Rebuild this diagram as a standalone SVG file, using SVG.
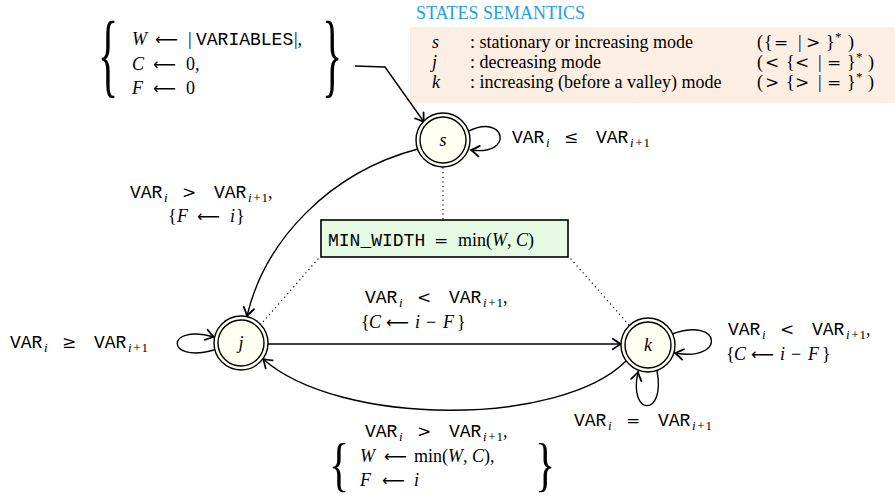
<svg xmlns="http://www.w3.org/2000/svg" width="895" height="497" viewBox="0 0 895 497">
<defs>
<style>
text{font-family:"Liberation Serif",serif;font-size:18px;fill:#000}
.m{font-family:"Liberation Mono",monospace;font-size:18px}
.it{font-style:italic}
.sub{font-size:13px}
.r{font-family:"DejaVu Serif",serif;font-size:17px}
.a{font-family:"DejaVu Sans",sans-serif;font-size:16px}
.title{fill:#22a0e0}
.edge{fill:none;stroke:#000;stroke-width:1.4}
.dot{fill:none;stroke:#000;stroke-width:1.3;stroke-linecap:round;stroke-dasharray:0.1,4.5}
.outer{fill:#fffff2;stroke:#000;stroke-width:1.4}
.inner{fill:none;stroke:#000;stroke-width:1.4}
.br{font-size:30px}
</style>
<marker id="ar" markerUnits="userSpaceOnUse" markerWidth="14" markerHeight="14" viewBox="-8 -6 10 12" refX="0" refY="0" orient="auto">
<path d="M-7,-4.5 Q-2,-1 0,0 Q-2,1 -7,4.5" fill="none" stroke="#000" stroke-width="1.5" stroke-linecap="round"/>
</marker>
</defs>
<rect width="895" height="497" fill="#fff"/>

<g id="legend">
<text class="title" x="416" y="19">STATES SEMANTICS</text>
<rect x="410" y="27" width="485" height="76" rx="3" fill="#fdeee3"/>
<text x="432" y="48" class="it">s</text><text x="470" y="48">: stationary or increasing mode</text>
<text y="48"><tspan x="757">(</tspan><tspan x="764">{</tspan><tspan class="r" x="774">=</tspan><tspan x="798">|</tspan><tspan class="r" x="806">&gt;</tspan><tspan x="826">}</tspan><tspan class="sub" x="835" dy="-7">*</tspan><tspan x="848" dy="7">)</tspan></text>
<text x="432" y="68" class="it">j</text><text x="470" y="68">: decreasing mode</text>
<text y="68"><tspan x="757">(</tspan><tspan class="r" x="765">&lt;</tspan><tspan x="786">{</tspan><tspan class="r" x="795">&lt;</tspan><tspan x="818">|</tspan><tspan class="r" x="827">=</tspan><tspan x="847">}</tspan><tspan class="sub" x="856" dy="-7">*</tspan><tspan x="868" dy="7">)</tspan></text>
<text x="432" y="88" class="it">k</text><text x="470" y="88">: increasing (before a valley) mode</text>
<text y="88"><tspan x="757">(</tspan><tspan class="r" x="765">&gt;</tspan><tspan x="786">{</tspan><tspan class="r" x="795">&gt;</tspan><tspan x="818">|</tspan><tspan class="r" x="827">=</tspan><tspan x="847">}</tspan><tspan class="sub" x="856" dy="-7">*</tspan><tspan x="868" dy="7">)</tspan></text>
</g>

<g id="init">
<text class="br" transform="translate(98,85.5) scale(1.4,3.1)">{</text>
<text y="45"><tspan class="it" x="132">W</tspan><tspan class="a" x="155">⟵</tspan><tspan x="188">|</tspan><tspan class="m" x="196">VARIABLES</tspan><tspan x="294">|,</tspan></text>
<text y="70"><tspan class="it" x="132">C</tspan><tspan class="a" x="153">⟵</tspan><tspan x="186">0,</tspan></text>
<text y="94"><tspan class="it" x="132">F</tspan><tspan class="a" x="153">⟵</tspan><tspan x="186">0</tspan></text>
<text class="br" transform="translate(322,85.5) scale(1.4,3.1)">}</text>
</g>

<g id="connectors">
<path class="edge" d="M355,66 L385,67 L424,122" marker-end="url(#ar)"/>
<path class="edge" d="M469,131 C505,113 515,156 471,150" marker-end="url(#ar)"/>
<path class="edge" d="M418,149 C330,172 265,240 247,316" marker-end="url(#ar)"/>
<path class="edge" d="M268,344 L621,344" marker-end="url(#ar)"/>
<path class="edge" d="M626,361 C560,427 340,427 263,359" marker-end="url(#ar)"/>
<path class="edge" d="M214,350 C165,364 165,323 214,337" marker-end="url(#ar)"/>
<path class="edge" d="M672,334 C722,316 726,362 675,353" marker-end="url(#ar)"/>
<path class="edge" d="M657,371 C666,417 628,417 638,372" marker-end="url(#ar)"/>
<path class="dot" d="M443,168 L443,219"/>
<path class="dot" d="M318,259 L262,323"/>
<path class="dot" d="M571,259 L629,325"/>
</g>

<g id="node-s">
<circle class="outer" cx="443" cy="140" r="27"/>
<circle class="inner" cx="443" cy="140" r="23"/>
<text x="443" y="146" class="it" text-anchor="middle">s</text>
</g>
<g id="node-j">
<circle class="outer" cx="241" cy="343" r="27"/>
<circle class="inner" cx="241" cy="343" r="23"/>
<text x="241" y="349" class="it" text-anchor="middle">j</text>
</g>
<g id="node-k">
<circle class="outer" cx="648" cy="345" r="27"/>
<circle class="inner" cx="648" cy="345" r="23"/>
<text x="648" y="351" class="it" text-anchor="middle">k</text>
</g>

<g id="min-width">
<rect x="321" y="220" width="247" height="37" fill="#e6fbe3" stroke="#000" stroke-width="1.6"/>
<text y="246"><tspan class="m" x="328">MIN_WIDTH</tspan><tspan class="r" x="434">=</tspan><tspan x="458">min(</tspan><tspan class="it">W</tspan>, <tspan class="it">C</tspan>)</text>
</g>

<g id="labels">
<text y="143"><tspan class="m" x="512">VAR</tspan><tspan class="it sub" x="546" dy="4">i</tspan><tspan class="r" x="564" dy="-4">≤</tspan><tspan class="m" x="596">VAR</tspan><tspan class="it sub" x="630" dy="4">i</tspan><tspan class="sub" dx="1.5">+</tspan><tspan class="sub" dx="1">1</tspan></text>

<text y="198"><tspan class="m" x="130">VAR</tspan><tspan class="it sub" x="164" dy="4">i</tspan><tspan class="r" x="182" dy="-4">&gt;</tspan><tspan class="m" x="214">VAR</tspan><tspan class="it sub" x="248" dy="4">i</tspan><tspan class="sub" dx="1.5">+</tspan><tspan class="sub" dx="1">1</tspan><tspan dy="-4">,</tspan></text>
<text y="222"><tspan x="168">{</tspan><tspan class="it" x="177">F</tspan><tspan class="a" x="197">⟵</tspan><tspan class="it" x="230">i</tspan><tspan x="236">}</tspan></text>

<text y="303"><tspan class="m" x="365">VAR</tspan><tspan class="it sub" x="399" dy="4">i</tspan><tspan class="r" x="417" dy="-4">&lt;</tspan><tspan class="m" x="449">VAR</tspan><tspan class="it sub" x="483" dy="4">i</tspan><tspan class="sub" dx="1.5">+</tspan><tspan class="sub" dx="1">1</tspan><tspan dy="-4">,</tspan></text>
<text y="328"><tspan x="361">{</tspan><tspan class="it" x="369">C</tspan><tspan class="a" x="386">⟵</tspan><tspan class="it" x="415">i</tspan><tspan x="426">−</tspan><tspan class="it" x="443">F</tspan><tspan x="457">}</tspan></text>

<text y="348"><tspan class="m" x="10">VAR</tspan><tspan class="it sub" x="44" dy="4">i</tspan><tspan class="r" x="62" dy="-4">≥</tspan><tspan class="m" x="94">VAR</tspan><tspan class="it sub" x="128" dy="4">i</tspan><tspan class="sub" dx="1.5">+</tspan><tspan class="sub" dx="1">1</tspan></text>

<text y="335"><tspan class="m" x="728">VAR</tspan><tspan class="it sub" x="762" dy="4">i</tspan><tspan class="r" x="780" dy="-4">&lt;</tspan><tspan class="m" x="812">VAR</tspan><tspan class="it sub" x="846" dy="4">i</tspan><tspan class="sub" dx="1.5">+</tspan><tspan class="sub" dx="1">1</tspan><tspan dy="-4">,</tspan></text>
<text y="360"><tspan x="726">{</tspan><tspan class="it" x="734">C</tspan><tspan class="a" x="751">⟵</tspan><tspan class="it" x="780">i</tspan><tspan x="791">−</tspan><tspan class="it" x="808">F</tspan><tspan x="822">}</tspan></text>

<text y="426"><tspan class="m" x="574">VAR</tspan><tspan class="it sub" x="608" dy="4">i</tspan><tspan class="r" x="626" dy="-4">=</tspan><tspan class="m" x="658">VAR</tspan><tspan class="it sub" x="692" dy="4">i</tspan><tspan class="sub" dx="1.5">+</tspan><tspan class="sub" dx="1">1</tspan></text>

<text y="437"><tspan class="m" x="365">VAR</tspan><tspan class="it sub" x="399" dy="4">i</tspan><tspan class="r" x="417" dy="-4">&gt;</tspan><tspan class="m" x="449">VAR</tspan><tspan class="it sub" x="483" dy="4">i</tspan><tspan class="sub" dx="1.5">+</tspan><tspan class="sub" dx="1">1</tspan><tspan dy="-4">,</tspan></text>
<text class="br" transform="translate(329,484) scale(1.4,2.0)">{</text>
<text y="462"><tspan class="it" x="360">W</tspan><tspan class="a" x="384">⟵</tspan><tspan x="414">min(</tspan><tspan class="it">W</tspan>, <tspan class="it">C</tspan>),</text>
<text y="486"><tspan class="it" x="360">F</tspan><tspan class="a" x="382">⟵</tspan><tspan class="it" x="414">i</tspan></text>
<text class="br" transform="translate(535,484) scale(1.4,2.0)">}</text>
</g>
</svg>
